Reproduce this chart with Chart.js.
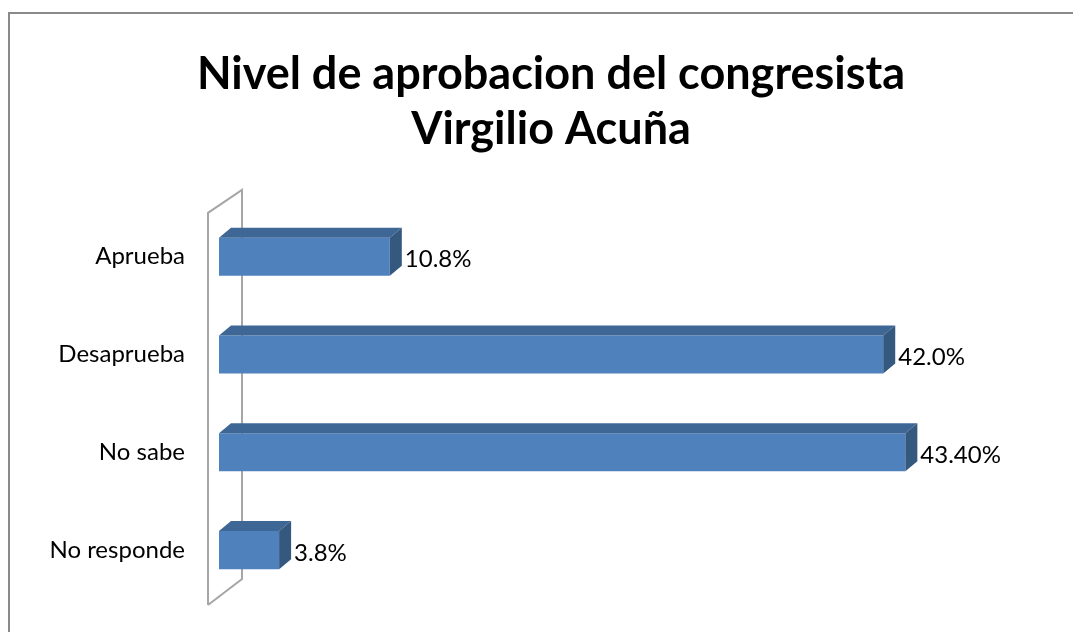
<!DOCTYPE html>
<html>
<head>
<meta charset="utf-8">
<script src="https://cdn.jsdelivr.net/npm/chart.js@4/dist/chart.umd.min.js"></script>
<style>
  html, body { margin: 0; padding: 0; background: #fff; }
  #wrap { width: 1073px; height: 632px; position: relative; }
</style>
</head>
<body>
<div id="wrap"><canvas id="approval-graph"></canvas></div>
<script>
const titleLines = ["Nivel de aprobacion del congresista", "Virgilio Acuña"];
const categories = ["Aprueba", "Desaprueba", "No sabe", "No responde"];
const values = [10.8, 42.0, 43.4, 3.8];
const valueLabels = ["10.8%", "42.0%", "43.40%", "3.8%"];

const FONT = "Lato, 'Open Sans', sans-serif";
const frontColor = "#4F81BD";
const topColor = "#3F6796";
const sideColor = "#35587F";

// gray frame on the top and left edge of the picture
const framePlugin = {
  id: "frame",
  beforeDraw(chart) {
    const ctx = chart.ctx;
    ctx.save();
    ctx.strokeStyle = "#8a8a8a";
    ctx.lineWidth = 2;
    ctx.beginPath();
    ctx.moveTo(9, chart.height);
    ctx.lineTo(9, 13);
    ctx.lineTo(chart.width, 13);
    ctx.stroke();
    ctx.restore();
  },
};

// the thin 3d "wall" behind the bars
const wallPlugin = {
  id: "wall",
  beforeDatasetsDraw(chart) {
    const { ctx, chartArea } = chart;
    const fx = chartArea.left - 11;
    const bx = chartArea.left + 23;
    const fTop = chartArea.top + 5;
    const fBot = chartArea.bottom + 6;
    const bTop = chartArea.top - 18;
    const bBot = chartArea.bottom - 20;
    ctx.save();
    ctx.strokeStyle = "#a6a6a6";
    ctx.lineWidth = 2;
    ctx.beginPath();
    ctx.moveTo(fx, fBot);
    ctx.lineTo(fx, fTop);
    ctx.lineTo(bx, bTop);
    ctx.lineTo(bx, bBot);
    ctx.lineTo(fx, fBot);
    ctx.stroke();
    ctx.restore();
  },
};

// top and side faces of each bar + the value labels
const bar3dPlugin = {
  id: "bar3d",
  afterDatasetsDraw(chart) {
    const ctx = chart.ctx;
    const dx = 12;
    const dy = 10;
    const meta = chart.getDatasetMeta(0);
    ctx.save();
    meta.data.forEach((bar, i) => {
      const { x, y, base, height } = bar.getProps(["x", "y", "base", "height"], true);
      const top = y - height / 2;
      const bottom = y + height / 2;

      ctx.fillStyle = topColor;
      ctx.beginPath();
      ctx.moveTo(base, top);
      ctx.lineTo(base + dx, top - dy);
      ctx.lineTo(x + dx, top - dy);
      ctx.lineTo(x, top);
      ctx.closePath();
      ctx.fill();

      ctx.fillStyle = sideColor;
      ctx.beginPath();
      ctx.moveTo(x, top);
      ctx.lineTo(x + dx, top - dy);
      ctx.lineTo(x + dx, bottom - dy);
      ctx.lineTo(x, bottom);
      ctx.closePath();
      ctx.fill();

      ctx.fillStyle = "#000";
      ctx.font = "24px " + FONT;
      ctx.textAlign = "left";
      ctx.textBaseline = "middle";
      ctx.fillText(valueLabels[i], x + dx + 3, y + 3);
    });
    ctx.restore();
  },
};

const config = {
  type: "bar",
  data: {
    labels: categories,
    datasets: [
      {
        data: values,
        backgroundColor: frontColor,
        borderWidth: 0,
        categoryPercentage: 1,
        barPercentage: 0.39,
      },
    ],
  },
  options: {
    indexAxis: "y",
    responsive: true,
    maintainAspectRatio: false,
    animation: false,
    layout: { padding: { top: 12, bottom: 33, left: 29, right: 0 } },
    scales: {
      x: { display: false, min: 0, max: 54 },
      y: {
        grid: { display: false, drawTicks: false },
        border: { display: false },
        ticks: { color: "#000", padding: 34, font: { family: FONT, size: 24 } },
        afterFit(scale) {
          scale.width = 190;
          scale.paddingTop = 0;
          scale.paddingBottom = 0;
        },
      },
    },
    plugins: {
      legend: { display: false },
      tooltip: { enabled: false },
      title: {
        display: true,
        text: titleLines,
        color: "#000",
        font: { family: FONT, size: 45, weight: "bold", lineHeight: 1.22 },
        padding: { top: 35, bottom: 51 },
      },
    },
  },
  plugins: [framePlugin, wallPlugin, bar3dPlugin],
};

new Chart(document.getElementById("approval-graph"), config);
</script>
</body>
</html>
